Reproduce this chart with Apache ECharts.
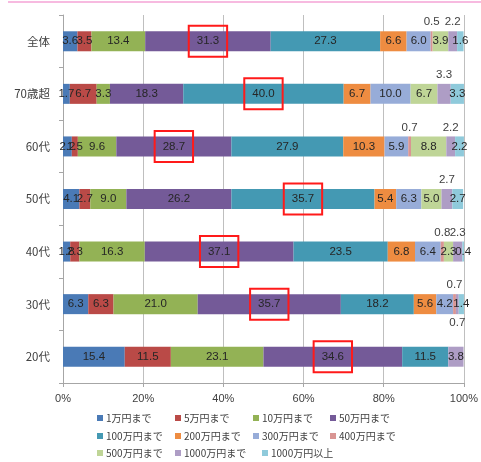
<!DOCTYPE html>
<html>
<head>
<meta charset="utf-8">
<script src="https://cdn.jsdelivr.net/npm/echarts@6/dist/echarts.min.js"></script>
<style>
html,body{margin:0;padding:0;background:#fff}
#chart{width:481px;height:462px}
</style>
</head>
<body>
<div id="chart"></div>
<script>
// Age groups (top to bottom)
const categories = ['全体', '70歳超', '60代', '50代', '40代', '30代', '20代'];

// Amount brackets
const bracketNames = ['1万円まで', '5万円まで', '10万円まで', '50万円まで', '100万円まで', '200万円まで',
  '300万円まで', '400万円まで', '500万円まで', '1000万円まで', '1000万円以上'];

// Share (%) per bracket, one value per age group
const upTo1 = [3.6, 1.7, 2.2, 4.1, 1.8, 6.3, 15.4];
const upTo5 = [3.5, 6.7, 1.5, 2.7, 2.3, 6.3, 11.5];
const upTo10 = [13.4, 3.3, 9.6, 9.0, 16.3, 21.0, 23.1];
const upTo50 = [31.3, 18.3, 28.7, 26.2, 37.1, 35.7, 34.6];
const upTo100 = [27.3, 40.0, 27.9, 35.7, 23.5, 18.2, 11.5];
const upTo200 = [6.6, 6.7, 10.3, 5.4, 6.8, 5.6, 0];
const upTo300 = [6.0, 10.0, 5.9, 6.3, 6.4, 4.2, 0];
const upTo400 = [0.5, 0, 0.7, 0, 0.8, 0.7, 0];
const upTo500 = [3.9, 6.7, 8.8, 5.0, 2.3, 0, 0];
const upTo1000 = [2.2, 3.3, 2.2, 2.7, 2.3, 0.7, 3.8];
const over1000 = [1.6, 3.3, 2.2, 2.7, 0.4, 1.4, 0];

// Axis tick labels
const xTicks = ['0%', '20%', '40%', '60%', '80%', '100%'];

const allValues = [upTo1, upTo5, upTo10, upTo50, upTo100, upTo200, upTo300, upTo400, upTo500, upTo1000, over1000];

const colors = ['#4A7AB6', '#BA4A47', '#93B255', '#745A98', '#4499B3', '#EE8C41',
  '#97ACD8', '#D99593', '#BFD597', '#AE9DC5', '#8FCADB'];

// Small segments whose labels sit outside the bar
const outsideLabels = {
  '400万円まで': { '全体': 'top', '60代': 'top', '40代': 'top', '30代': 'top' },
  '1000万円まで': { '全体': 'top', '70歳超': 'top', '60代': 'top', '50代': 'top', '40代': 'top', '30代': 'bottom' }
};

// Largest bracket of each age group gets a red frame
const maxIndex = categories.map((c, ci) => {
  let best = 0;
  allValues.forEach((arr, si) => { if (arr[ci] > allValues[best][ci]) best = si; });
  return best;
});

const labelFont = 'Liberation Sans, Arial, sans-serif';
const cjkFont = '"Noto Sans CJK JP", sans-serif';

const series = bracketNames.map((name, si) => ({
  name: name,
  type: 'bar',
  stack: 'total',
  barWidth: 20,
  itemStyle: { color: colors[si] },
  label: {
    show: true,
    position: 'inside',
    color: '#262626',
    fontSize: 11.5,
    fontFamily: labelFont,
    formatter: p => (p.value > 0 ? p.value.toFixed(1) : '')
  },
  data: allValues[si].map((v, ci) => {
    const item = { value: v };
    const pos = outsideLabels[name] && outsideLabels[name][categories[ci]];
    if (pos) {
      item.label = { position: pos, distance: 3, color: '#404040' };
    }
    if (maxIndex[ci] === si) {
      item.label = {
        borderColor: '#FF1A1A',
        borderWidth: 2,
        padding: [10, 8, 9, 8]
      };
    }
    return item;
  })
}));

// Legend laid out as a grid of columns
const legendSlots = [
  [97, 420], [175, 420], [253, 420], [330, 420],
  [97, 438], [175, 438], [253, 438], [330, 438],
  [97, 455], [175, 455], [262, 455]
];
const legends = bracketNames.map((name, i) => ({
  data: [name],
  left: legendSlots[i][0],
  top: legendSlots[i][1] - 7,
  orient: 'horizontal',
  icon: 'rect',
  itemWidth: 6,
  itemHeight: 6,
  padding: 0,
  selectedMode: false,
  textStyle: { fontSize: 10, color: '#404040', fontFamily: cjkFont, padding: [0, 0, 0, -2] }
}));

const chart = echarts.init(document.getElementById('chart'), null, { renderer: 'canvas' });
chart.setOption({
  animation: false,
  backgroundColor: '#fff',
  grid: { left: 63, right: 14, top: 15, bottom: 79, containLabel: false },
  legend: legends,
  xAxis: {
    type: 'value',
    min: 0,
    max: 100,
    interval: 20,
    axisLine: { show: true, lineStyle: { color: '#A6A6A6' } },
    axisTick: { show: true, length: 4, lineStyle: { color: '#A6A6A6' } },
    splitLine: { show: true, lineStyle: { color: '#BFBFBF' } },
    axisLabel: {
      color: '#404040',
      fontSize: 11,
      fontFamily: labelFont,
      margin: 10,
      formatter: v => xTicks[Math.round(v / 20)]
    }
  },
  yAxis: {
    type: 'category',
    data: categories,
    inverse: true,
    axisLine: { show: true, lineStyle: { color: '#A6A6A6' } },
    axisTick: { show: true, length: 4, alignWithLabel: false, lineStyle: { color: '#A6A6A6' } },
    axisLabel: { color: '#404040', fontSize: 11.5, fontFamily: cjkFont, margin: 13 }
  },
  graphic: [{
    type: 'line',
    shape: { x1: 8, y1: 2, x2: 481, y2: 2 },
    style: { stroke: '#F5A3D6', lineWidth: 1.5 },
    silent: true
  }],
  series: series
});
</script>
</body>
</html>
